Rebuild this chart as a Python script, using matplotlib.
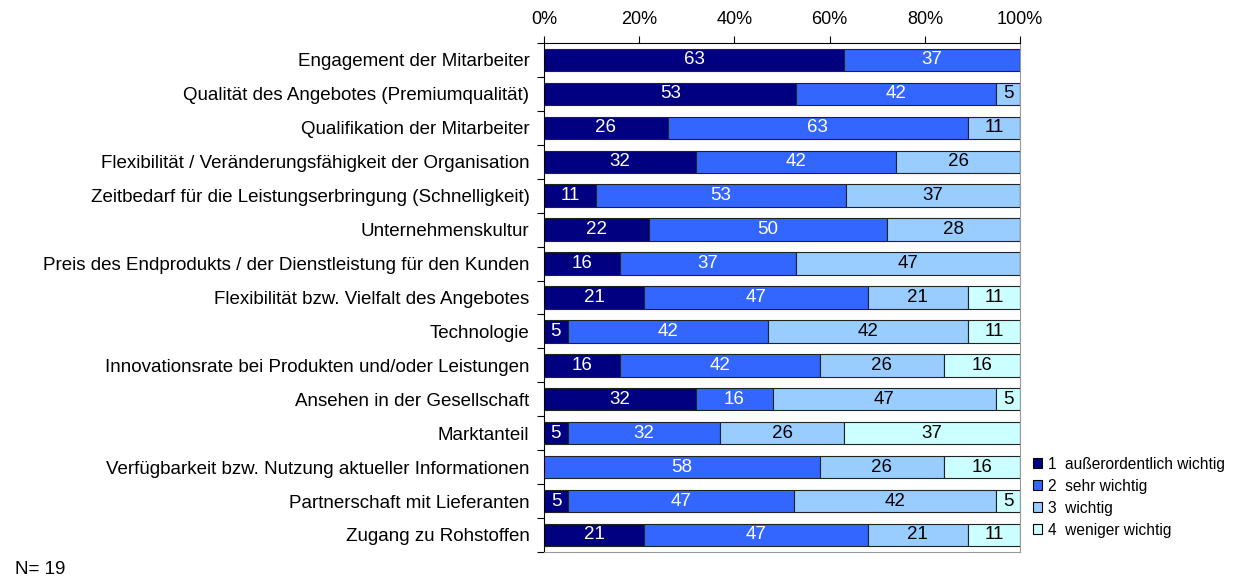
import matplotlib
matplotlib.use("Agg")
import matplotlib.pyplot as plt
import numpy as np
from matplotlib.patches import Patch

plt.rcParams['font.family'] = ['Liberation Sans', 'DejaVu Sans']

categories = [
    "Engagement der Mitarbeiter",
    "Qualität des Angebotes (Premiumqualität)",
    "Qualifikation der Mitarbeiter",
    "Flexibilität / Veränderungsfähigkeit der Organisation",
    "Zeitbedarf für die Leistungserbringung (Schnelligkeit)",
    "Unternehmenskultur",
    "Preis des Endprodukts / der Dienstleistung für den Kunden",
    "Flexibilität bzw. Vielfalt des Angebotes",
    "Technologie",
    "Innovationsrate bei Produkten und/oder Leistungen",
    "Ansehen in der Gesellschaft",
    "Marktanteil",
    "Verfügbarkeit bzw. Nutzung aktueller Informationen",
    "Partnerschaft mit Lieferanten",
    "Zugang zu Rohstoffen",
]

ausserordentlich = [63, 53, 26, 32, 11, 22, 16, 21, 5, 16, 32, 5, 0, 5, 21]
sehr_wichtig     = [37, 42, 63, 42, 53, 50, 37, 47, 42, 42, 16, 32, 58, 47, 47]
wichtig          = [0, 5, 11, 26, 37, 28, 47, 21, 42, 26, 47, 26, 26, 42, 21]
weniger_wichtig  = [0, 0, 0, 0, 0, 0, 0, 11, 11, 16, 5, 37, 16, 5, 11]

series_names = ["1  außerordentlich wichtig", "2  sehr wichtig", "3  wichtig", "4  weniger wichtig"]
colors = ["#000080", "#3366FF", "#99CCFF", "#CCFFFF"]
text_colors = ["white", "white", "black", "black"]
tick_labels = ["0%", "20%", "40%", "60%", "80%", "100%"]

data = np.array([ausserordentlich, sehr_wichtig, wichtig, weniger_wichtig], dtype=float)
# 100 % stacked: scale each row to its total
shares = data / data.sum(axis=0) * 100

fig = plt.figure(figsize=(12.37, 5.81), dpi=100)
ax = fig.add_axes([0.4398, 0.050, 0.3848, 0.876])

y = np.arange(len(categories))
left = np.zeros(len(categories))
for i in range(4):
    ax.barh(y, shares[i], left=left, height=0.66, color=colors[i],
            edgecolor="#222222", linewidth=0.8)
    for j in range(len(categories)):
        if data[i, j] > 0:
            ax.text(left[j] + shares[i, j] / 2, y[j], f"{int(data[i, j])}",
                    ha="center", va="center", color=text_colors[i], fontsize=13.5)
    left += shares[i]

ax.set_xlim(0, 100)
ax.set_ylim(len(categories) - 0.5, -0.5)
ax.set_yticks(y)
ax.set_yticklabels(categories, fontsize=13.5)
ax.set_yticks(np.arange(len(categories) + 1) - 0.5, minor=True)
ax.tick_params(axis="y", which="major", length=0, pad=10.5)
ax.tick_params(axis="y", which="minor", length=5, direction="out", width=0.8)

ax.xaxis.tick_top()
ax.set_xticks(np.arange(0, 101, 20))
ax.set_xticklabels(tick_labels, fontsize=13)
ax.tick_params(axis="x", length=5, width=0.8, direction="out", pad=6)

ax.spines["left"].set_color("black")
ax.spines["top"].set_color("black")
ax.spines["right"].set_color("#999999")
ax.spines["bottom"].set_color("#999999")
for s in ax.spines.values():
    s.set_linewidth(0.8)

handles = [Patch(facecolor=c, edgecolor="black", linewidth=0.8) for c in colors]
fig.legend(handles, series_names, loc="upper left", bbox_to_anchor=(0.835, 0.214),
           frameon=False, fontsize=11.2, handlelength=0.6, handleheight=0.6,
           handletextpad=0.4, labelspacing=0.45, borderaxespad=0, borderpad=0)

fig.text(0.012, 0.006, "N= 19", fontsize=13.5, ha="left", va="bottom")

fig.savefig("out.png", dpi=100)
